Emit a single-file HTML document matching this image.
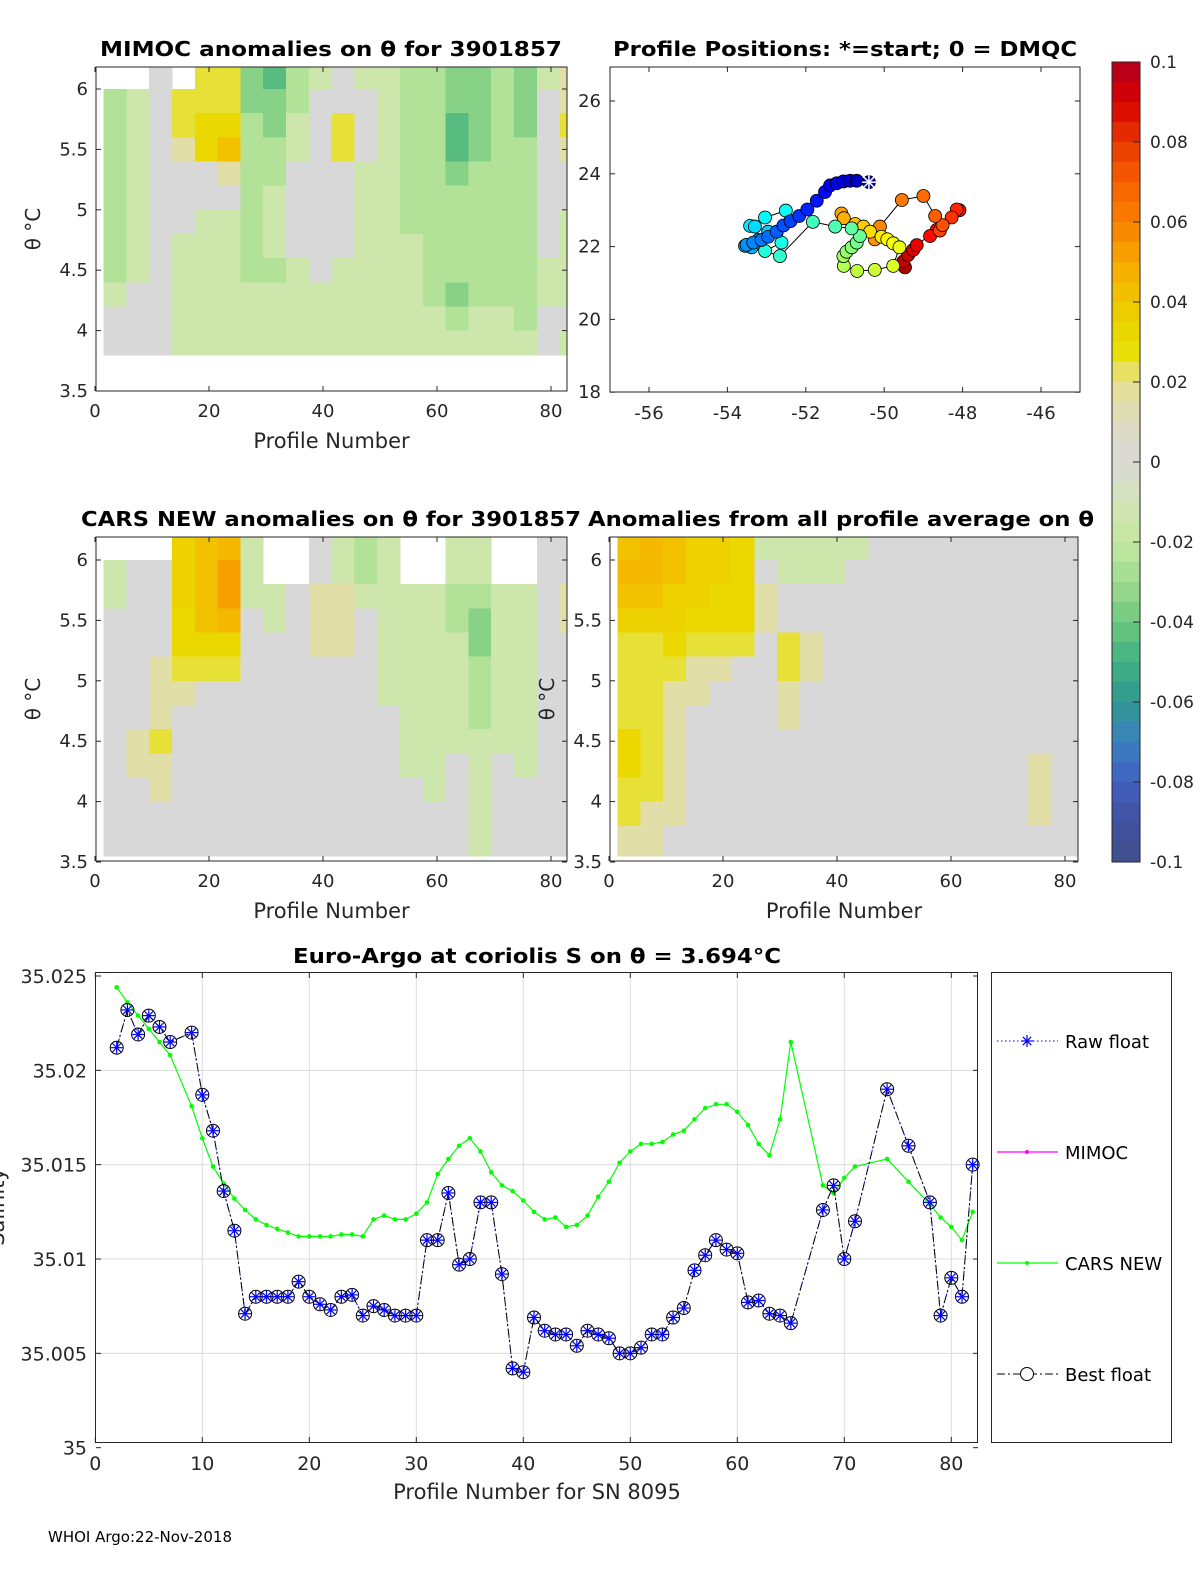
<!DOCTYPE html>
<html><head><meta charset="utf-8"><style>
html,body{margin:0;padding:0;background:#fff;}
svg{display:block;font-family:"DejaVu Sans","Liberation Sans",sans-serif;}
</style></head><body>
<svg id="fig" width="1200" height="1575" viewBox="0 0 1200 1575" xmlns="http://www.w3.org/2000/svg">
<defs>
<clipPath id="clipA"><rect x="96" y="67" width="471" height="324"/></clipPath>
<clipPath id="clipB"><rect x="96" y="537" width="471" height="324"/></clipPath>
<clipPath id="clipC"><rect x="610" y="537" width="468" height="324"/></clipPath>
<linearGradient id="cbar" x1="0" y1="1" x2="0" y2="0"></linearGradient>
</defs>
</svg>
<script>
// ---------- heatmap data (anomaly in units of 0.001; null = no data) ----------
const heatColCenters = [3.5,7.5,11.5,15.5,19.5,23.5,27.5,31.5,35.5,39.5,43.5,47.5,51.5,55.5,59.5,63.5,67.5,71.5,75.5,79.5,83.5];
const thetaEdges = [6.2,6.0,5.8,5.6,5.4,5.2,5.0,4.8,4.6,4.4,4.2,4.0,3.8,3.55];
const N = null;
const mimocAnom = [
[N,N,0,N,25,25,-35,-45,-25,-15,0,-15,-15,-25,-25,-35,-35,-25,-35,-15,15],
[-25,-15,0,25,25,25,-35,-35,-25,0,0,0,-15,-25,-25,-35,-35,-25,-35,0,15],
[-25,-15,0,25,32,32,-25,-35,-15,0,25,0,-15,-25,-25,-45,-35,-25,-35,0,25],
[-25,-15,0,15,32,42,-25,-25,-15,0,25,0,-15,-25,-25,-45,-35,-25,-25,0,15],
[-25,-15,0,0,0,15,-25,-25,0,0,0,-15,-15,-25,-25,-35,-25,-25,-25,0,0],
[-25,-15,0,0,0,0,-25,-15,0,0,0,-15,-15,-25,-25,-25,-25,-25,-25,0,0],
[-25,-15,0,0,-15,-15,-25,-15,0,0,0,-15,-15,-25,-25,-25,-25,-25,-25,0,-15],
[-25,-15,0,-15,-15,-15,-25,-15,0,0,0,-15,-15,-15,-25,-25,-25,-25,-25,0,-15],
[-25,-15,0,-15,-15,-15,-25,-25,-15,0,-15,-15,-15,-15,-25,-25,-25,-25,-25,-15,-15],
[-15,0,0,-15,-15,-15,-15,-15,-15,-15,-15,-15,-15,-15,-25,-35,-25,-25,-25,-15,-15],
[0,0,0,-15,-15,-15,-15,-15,-15,-15,-15,-15,-15,-15,-15,-25,-15,-15,-25,0,0],
[0,0,0,-15,-15,-15,-15,-15,-15,-15,-15,-15,-15,-15,-15,-15,-15,-15,-15,0,-15],
[N,N,N,N,N,N,N,N,N,N,N,N,N,N,N,N,N,N,N,N,N]
];
const carsAnom = [
[N,N,N,35,42,45,-15,N,N,0,-15,-25,-15,N,N,-15,-15,N,N,0,0],
[-15,0,0,35,42,52,-15,N,N,0,-15,-25,-15,N,N,-15,-15,N,N,0,0],
[-15,0,0,35,42,52,-15,-15,0,15,15,-15,-15,-15,-15,-25,-25,-15,-15,0,15],
[0,0,0,32,42,45,0,-15,0,15,15,0,-15,-15,-15,-25,-35,-15,-15,0,15],
[0,0,0,32,32,32,0,0,0,15,15,0,-15,-15,-15,-15,-35,-15,-15,0,0],
[0,0,15,25,25,25,0,0,0,0,0,0,-15,-15,-15,-15,-25,-15,-15,0,0],
[0,0,15,15,0,0,0,0,0,0,0,0,-15,-15,-15,-15,-25,-15,-15,0,0],
[0,0,15,0,0,0,0,0,0,0,0,0,0,-15,-15,-15,-25,-15,-15,0,0],
[0,15,25,0,0,0,0,0,0,0,0,0,0,-15,-15,-15,-15,-15,-15,0,0],
[0,15,15,0,0,0,0,0,0,0,0,0,0,-15,-15,0,-15,0,-15,0,0],
[0,0,15,0,0,0,0,0,0,0,0,0,0,0,-15,0,-15,0,0,0,0],
[0,0,0,0,0,0,0,0,0,0,0,0,0,0,0,0,-15,0,0,0,0],
[0,0,0,0,0,0,0,0,0,0,0,0,0,0,0,0,-15,0,0,0,0]
];
const avgAnom = [
[42,45,42,35,35,32,-15,-15,-15,-15,-15,0,0,0,0,0,0,0,0,0,0],
[45,45,42,35,35,32,0,-15,-15,-15,0,0,0,0,0,0,0,0,0,0,0],
[42,42,35,35,32,32,15,0,0,0,0,0,0,0,0,0,0,0,0,0,0],
[35,35,35,32,32,32,15,0,0,0,0,0,0,0,0,0,0,0,0,0,0],
[25,25,32,25,25,25,0,25,15,0,0,0,0,0,0,0,0,0,0,0,0],
[25,25,25,15,15,0,0,25,15,0,0,0,0,0,0,0,0,0,0,0,0],
[25,25,15,15,0,0,0,15,0,0,0,0,0,0,0,0,0,0,0,0,0],
[25,25,15,0,0,0,0,15,0,0,0,0,0,0,0,0,0,0,0,0,0],
[32,25,15,0,0,0,0,0,0,0,0,0,0,0,0,0,0,0,0,0,0],
[32,25,15,0,0,0,0,0,0,0,0,0,0,0,0,0,0,0,15,0,0],
[25,25,15,0,0,0,0,0,0,0,0,0,0,0,0,0,0,0,15,0,0],
[25,15,15,0,0,0,0,0,0,0,0,0,0,0,0,0,0,0,15,0,0],
[15,15,0,0,0,0,0,0,0,0,0,0,0,0,0,0,0,0,0,0,0]
];
// ---------- map data ----------
const posLon = [-50.39,-50.70,-50.87,-51.04,-51.21,-51.38,-51.51,-51.72,-51.96,-52.17,-52.39,-52.57,-52.74,-52.96,-53.13,-53.34,-53.51,-53.55,-53.38,-53.21,-52.96,-53.30,-53.42,-53.04,-52.51,-52.62,-53.04,-52.66,-51.82,-51.25,-50.83,-50.62,-50.70,-50.83,-50.96,-51.04,-51.03,-50.69,-50.24,-49.77,-49.61,-49.77,-49.92,-50.07,-50.36,-50.53,-50.74,-51.03,-51.09,-50.24,-50.11,-49.55,-49.00,-48.70,-48.51,-48.58,-48.28,-48.15,-48.08,-48.83,-48.66,-49.17,-49.26,-49.39,-49.51,-49.47];
const posLat = [23.77,23.81,23.81,23.79,23.74,23.68,23.50,23.26,23.02,22.84,22.70,22.58,22.41,22.27,22.18,22.11,22.05,22.02,21.98,22.18,22.41,22.55,22.57,22.80,22.99,22.11,21.88,21.74,22.68,22.55,22.50,22.29,22.11,21.98,21.86,21.74,21.47,21.33,21.36,21.47,21.98,22.09,22.20,22.27,22.41,22.55,22.62,22.78,22.91,22.20,22.55,23.28,23.39,22.84,22.59,22.44,22.80,23.02,23.00,22.29,22.46,22.04,21.91,21.77,21.59,21.43];
// ---------- salinity time series ----------
const profNums = [2,3,4,5,6,7,9,10,11,12,13,14,15,16,17,18,19,20,21,22,23,24,25,26,27,28,29,30,31,32,33,34,35,36,37,38,39,40,41,42,43,44,45,46,47,48,49,50,51,52,53,54,55,56,57,58,59,60,61,62,63,64,65,68,69,70,71,74,76,78,79,80,81,82];
const floatSal = [35.0212,35.0232,35.0219,35.0229,35.0223,35.0215,35.0220,35.0187,35.0168,35.0136,35.0115,35.0071,35.0080,35.0080,35.0080,35.0080,35.0088,35.0080,35.0076,35.0073,35.0080,35.0081,35.0070,35.0075,35.0073,35.0070,35.0070,35.0070,35.0110,35.0110,35.0135,35.0097,35.0100,35.0130,35.0130,35.0092,35.0042,35.0040,35.0069,35.0062,35.0060,35.0060,35.0054,35.0062,35.0060,35.0058,35.0050,35.0050,35.0053,35.0060,35.0060,35.0069,35.0074,35.0094,35.0102,35.0110,35.0105,35.0103,35.0077,35.0078,35.0071,35.0070,35.0066,35.0126,35.0139,35.0100,35.0120,35.0190,35.0160,35.0130,35.0070,35.0090,35.0080,35.0150];
const carsSal = [35.0244,35.0236,35.0229,35.0222,35.0215,35.0208,35.0181,35.0164,35.0149,35.0140,35.0132,35.0126,35.0121,35.0118,35.0116,35.0114,35.0112,35.0112,35.0112,35.0112,35.0113,35.0113,35.0112,35.0121,35.0123,35.0121,35.0121,35.0124,35.0130,35.0145,35.0153,35.0160,35.0164,35.0157,35.0146,35.0139,35.0136,35.0131,35.0125,35.0121,35.0122,35.0117,35.0118,35.0123,35.0133,35.0141,35.0151,35.0157,35.0161,35.0161,35.0162,35.0166,35.0168,35.0174,35.0180,35.0182,35.0182,35.0178,35.0171,35.0161,35.0155,35.0174,35.0215,35.0139,35.0135,35.0143,35.0149,35.0153,35.0141,35.0129,35.0122,35.0117,35.0110,35.0125];
const salTicks = [35,35.005,35.01,35.015,35.02,35.025];
const salTickLabels = ['35','35.005','35.01','35.015','35.02','35.025'];
const profTicks = [0,10,20,30,40,50,60,70,80];
const heatXTicks = [0,20,40,60,80];
const heatYTicks = [3.5,4,4.5,5,5.5,6];
const heatYLabels = ['3.5','4','4.5','5','5.5','6'];
const lonTicks = [-56,-54,-52,-50,-48,-46];
const latTicks = [18,20,22,24,26];
const cbarTicks = [-0.1,-0.08,-0.06,-0.04,-0.02,0,0.02,0.04,0.06,0.08,0.1];
const cbarLabels = ['-0.1','-0.08','-0.06','-0.04','-0.02','0','0.02','0.04','0.06','0.08','0.1'];

const svg = document.getElementById('fig');
const NS = 'http://www.w3.org/2000/svg';
function mk(tag, attrs, parent){ const e=document.createElementNS(NS,tag); for(const k in attrs) e.setAttribute(k,attrs[k]); (parent||svg).appendChild(e); return e; }
function txt(str, attrs, parent){ const e=mk('text',attrs,parent); e.textContent=str; return e; }

const stops=[[-0.1,'#40508a'],[-0.09,'#4050a0'],[-0.08,'#4060c0'],[-0.07,'#3a80c0'],[-0.06,'#309890'],[-0.05,'#40b080'],[-0.04,'#70c880'],[-0.03,'#a0dc90'],[-0.02,'#c4e8a0'],[-0.01,'#d4e4b8'],[0,'#d8d8d8'],[0.01,'#dedcc0'],[0.02,'#e6e090'],[0.028,'#e8e000'],[0.04,'#f0c800'],[0.05,'#f8a800'],[0.06,'#f88000'],[0.07,'#f86000'],[0.08,'#e83800'],[0.09,'#d80000'],[0.1,'#b00020']];
function hex(h){return [parseInt(h.substr(1,2),16),parseInt(h.substr(3,2),16),parseInt(h.substr(5,2),16)];}
function cmap(v){ v=Math.max(-0.1,Math.min(0.1,v)); for(let i=0;i<stops.length-1;i++){ if(v<=stops[i+1][0]){ const t=(v-stops[i][0])/(stops[i+1][0]-stops[i][0]); const a=hex(stops[i][1]), b=hex(stops[i+1][1]); return 'rgb('+a.map((c,j)=>Math.round(c+(b[j]-c)*t)).join(',')+')'; } } return stops[stops.length-1][1]; }

// ---------- heatmap panels ----------
function heatPanel(name, data, x0, y6, boxL, boxT, boxR, boxB, clip, title, titleX, titleW, showYLabel){
  const xs = v => x0 + v*5.7;
  const ys = th => y6 + (6-th)*120.8;
  const g = mk('g',{});
  
  
  const cg = mk('g',{'clip-path':'url(#'+clip+')','shape-rendering':'crispEdges'},g);
  data.forEach((row,r)=>{
    row.forEach((val,c)=>{
      if(val===null) return;
      const cell = mk('rect',{x:xs(heatColCenters[c]-2),y:ys(thetaEdges[r]),width:xs(heatColCenters[c]+2)-xs(heatColCenters[c]-2)+0.5,height:ys(thetaEdges[r+1])-ys(thetaEdges[r])+0.5,fill:cmap(val/1000)},cg);
      
      
    });
  });
  const box = mk('rect',{x:boxL,y:boxT,width:boxR-boxL,height:boxB-boxT,fill:'none',stroke:'#262626','stroke-width':1},g);
  
  
  heatXTicks.forEach(t=>{
    const x=xs(t);
    mk('line',{x1:x,y1:boxB,x2:x,y2:boxB-5,stroke:'#262626'},g);
    mk('line',{x1:x,y1:boxT,x2:x,y2:boxT+5,stroke:'#262626'},g);
    const l=txt(String(t),{x:x,y:boxB+26,'font-size':18,'text-anchor':'middle',fill:'#262626'},g);
    
    
  });
  heatYTicks.forEach((t,i)=>{
    const y=ys(t);
    mk('line',{x1:boxL,y1:y,x2:boxL+5,y2:y,stroke:'#262626'},g);
    mk('line',{x1:boxR,y1:y,x2:boxR-5,y2:y,stroke:'#262626'},g);
    const l=txt(heatYLabels[i],{x:boxL-8,y:y+6,'font-size':18,'text-anchor':'end',fill:'#262626'},g);
    
    
  });
  const xl=txt('Profile Number',{x:(boxL+boxR)/2,y:boxB+57,'font-size':21,'text-anchor':'middle',fill:'#262626'},g);
  
  
  const yl=txt('θ °C',{x:0,y:0,'font-size':20,'text-anchor':'middle',fill:'#262626',transform:'translate('+(boxL-56)+','+((boxT+boxB)/2)+') rotate(-90)'},g);
  
  
  const tt=txt(title,{x:titleX,y:boxT-11,'font-size':20,'font-weight':'bold','text-anchor':'middle',fill:'#000',textLength:titleW,lengthAdjust:'spacingAndGlyphs'},g);
  
  
}
heatPanel('mimoc-anomaly-panel', mimocAnom, 95, 89, 96, 67, 567, 391, 'clipA', 'MIMOC anomalies on θ  for 3901857', 331, 462, true);
heatPanel('cars-anomaly-panel', carsAnom, 95, 560, 96, 537, 567, 861, 'clipB', 'CARS NEW anomalies on θ for 3901857', 331, 500, true);
heatPanel('profile-average-anomaly-panel', avgAnom, 609, 560, 610, 537, 1078, 861, 'clipC', 'Anomalies from all profile average on θ', 841, 506, true);

// ---------- map ----------
(function(){
  const xs = lon => 649 + (lon+56)*39.2;
  const ys = lat => 101 + (26-lat)*36.4;
  const g = mk('g',{});
  
  
  const bx=mk('rect',{x:610,y:67,width:470,height:325,fill:'#fff',stroke:'#262626'},g);
  
  
  lonTicks.forEach(t=>{ const x=xs(t); mk('line',{x1:x,y1:392,x2:x,y2:387,stroke:'#262626'},g); mk('line',{x1:x,y1:67,x2:x,y2:72,stroke:'#262626'},g);
    const l=txt(String(t),{x:x,y:419,'font-size':18,'text-anchor':'middle',fill:'#262626'},g);
    
     });
  latTicks.forEach(t=>{ const y=ys(t); mk('line',{x1:610,y1:y,x2:615,y2:y,stroke:'#262626'},g); mk('line',{x1:1080,y1:y,x2:1075,y2:y,stroke:'#262626'},g);
    const l=txt(String(t),{x:601,y:y+6,'font-size':18,'text-anchor':'end',fill:'#262626'},g);
    
     });
  const pts = posLon.map((lo,i)=>xs(lo).toFixed(1)+','+ys(posLat[i]).toFixed(1)).join(' ');
  const tr=mk('polyline',{points:pts,fill:'none',stroke:'#000','stroke-width':1},g);
  
  
  const n=posLon.length;
  function jet(t){ const f=x=>Math.round(255*Math.max(0,Math.min(1,x))); return 'rgb('+f(1.5-Math.abs(4*t-3))+','+f(1.5-Math.abs(4*t-2))+','+f(1.5-Math.abs(4*t-1))+')'; }
  for(let i=n-1;i>=0;i--){
    const c=mk('circle',{cx:xs(posLon[i]),cy:ys(posLat[i]),r:6.5,fill:jet(0.05+0.9*i/(n-1)),stroke:'#000','stroke-width':0.8},g);
    
    
  }
  const sx=xs(posLon[0]), sy=ys(posLat[0]);
  const st=mk('g',{stroke:'#fff','stroke-width':1.5},g);
  
  
  [[0,7],[7,0],[5,5],[5,-5]].forEach(d=>mk('line',{x1:sx-d[0],y1:sy-d[1],x2:sx+d[0],y2:sy+d[1]},st));
  const tt=txt('Profile Positions: *=start; 0 = DMQC',{x:845,y:56,'font-size':20,'font-weight':'bold','text-anchor':'middle',fill:'#000',textLength:464,lengthAdjust:'spacingAndGlyphs'},g);
  
  
})();

// ---------- colorbar ----------
(function(){
  const g=mk('g',{'shape-rendering':'crispEdges'});
  
  
  const yv = v => 62 + (0.1-v)/0.2*800;
  for(let k=0;k<40;k++){ const v1=0.1-k*0.005, v2=v1-0.005;
    mk('rect',{x:1112,y:yv(v1),width:28,height:yv(v2)-yv(v1)+0.5,fill:cmap((v1+v2)/2)},g); }
  mk('rect',{x:1112,y:62,width:28,height:800,fill:'none',stroke:'#262626'},g);
  cbarTicks.forEach((t,i)=>{ const y=yv(t); mk('line',{x1:1133,y1:y,x2:1140,y2:y,stroke:'#262626'},g);
    const l=txt(cbarLabels[i],{x:1150,y:y+6,'font-size':17,fill:'#262626'},g);
    
     });
})();

// ---------- salinity chart ----------
(function(){
  const xs = v => 95.3 + v*10.7;
  const ys = v => 976 + (35.025-v)*18867;
  const g=mk('g',{});
  
  
  profTicks.forEach(t=>{ const x=xs(t);
    if(t>0) mk('line',{x1:x,y1:976,x2:x,y2:1442,stroke:'#dcdcdc'},g);
    mk('line',{x1:x,y1:1442,x2:x,y2:1437,stroke:'#262626'},g); mk('line',{x1:x,y1:973,x2:x,y2:978,stroke:'#262626'},g);
    const l=txt(String(t),{x:x,y:1470,'font-size':19,'text-anchor':'middle',fill:'#262626'},g);
    
     });
  salTicks.forEach((t,i)=>{ const y=ys(t);
    if(i>0&&i<salTicks.length-1) mk('line',{x1:96,y1:y,x2:978,y2:y,stroke:'#dcdcdc'},g);
    mk('line',{x1:96,y1:y,x2:101,y2:y,stroke:'#262626'},g); mk('line',{x1:978,y1:y,x2:973,y2:y,stroke:'#262626'},g);
    const l=txt(salTickLabels[i],{x:87,y:y+7,'font-size':19,'text-anchor':'end',fill:'#262626'},g);
    
     });
  const bx=mk('rect',{x:95.5,y:972.5,width:882,height:470,fill:'none',stroke:'#262626'},g);
  
  
  const cp = profNums.map((p,i)=>xs(p).toFixed(1)+','+ys(carsSal[i]).toFixed(1)).join(' ');
  const cl=mk('polyline',{points:cp,fill:'none',stroke:'#00ff00','stroke-width':1.2},g);
  
  
  profNums.forEach((p,i)=>{ const d=mk('circle',{cx:xs(p),cy:ys(carsSal[i]),r:2.3,fill:'#00ff00'},g);
    
     });
  const fp = profNums.map((p,i)=>xs(p).toFixed(1)+','+ys(floatSal[i]).toFixed(1)).join(' ');
  const rl=mk('polyline',{points:fp,fill:'none',stroke:'#0000ff','stroke-width':1,'stroke-dasharray':'1.5,2.5'},g);
  
  
  const bl=mk('polyline',{points:fp,fill:'none',stroke:'#000','stroke-width':1,'stroke-dasharray':'8,3,2,3'},g);
  
  
  profNums.forEach((p,i)=>{ const x=xs(p), y=ys(floatSal[i]);
    const m=mk('g',{},g);
    
    
    mk('circle',{cx:x,cy:y,r:6.5,fill:'none',stroke:'#000','stroke-width':1},m);
    [[0,6],[6,0],[4.2,4.2],[4.2,-4.2]].forEach(d=>mk('line',{x1:x-d[0],y1:y-d[1],x2:x+d[0],y2:y+d[1],stroke:'#0000ff','stroke-width':1.2},m));
  });
  const xl=txt('Profile Number for SN 8095',{x:537,y:1499,'font-size':21,'text-anchor':'middle',fill:'#262626'},g);
  
  
  const yl=txt('Salinity',{x:0,y:0,'font-size':21,'text-anchor':'middle',fill:'#262626',transform:'translate(4,1207) rotate(-90)'},g);
  
  
  const tt=txt('Euro-Argo at coriolis S on θ = 3.694°C',{x:537,y:963,'font-size':20,'font-weight':'bold','text-anchor':'middle',fill:'#000',textLength:488,lengthAdjust:'spacingAndGlyphs'},g);
  
  
  // legend
  const lg=mk('g',{},g);
  
  
  mk('rect',{x:991.5,y:972.5,width:180,height:470,fill:'#fff',stroke:'#262626'},lg);
  const e1=mk('g',{},lg);
  
  
  mk('line',{x1:997,y1:1041,x2:1058,y2:1041,stroke:'#0000ff','stroke-dasharray':'1.5,2.5'},e1);
  [[0,6],[6,0],[4.2,4.2],[4.2,-4.2]].forEach(d=>mk('line',{x1:1027-d[0],y1:1041-d[1],x2:1027+d[0],y2:1041+d[1],stroke:'#0000ff','stroke-width':1.2},e1));
  txt('Raw float',{x:1065,y:1048,'font-size':18,fill:'#000'},e1);
  const e2=mk('g',{},lg);
  
  
  mk('line',{x1:997,y1:1152,x2:1058,y2:1152,stroke:'#ff00ff','stroke-width':1.2},e2);
  mk('circle',{cx:1027,cy:1152,r:2,fill:'#ff00ff'},e2);
  txt('MIMOC',{x:1065,y:1159,'font-size':18,fill:'#000'},e2);
  const e3=mk('g',{},lg);
  
  
  mk('line',{x1:997,y1:1263,x2:1058,y2:1263,stroke:'#00ff00','stroke-width':1.2},e3);
  mk('circle',{cx:1027,cy:1263,r:2,fill:'#00ff00'},e3);
  txt('CARS NEW',{x:1065,y:1270,'font-size':18,fill:'#000'},e3);
  const e4=mk('g',{},lg);
  
  
  mk('line',{x1:997,y1:1374,x2:1058,y2:1374,stroke:'#000','stroke-dasharray':'8,3,2,3'},e4);
  mk('circle',{cx:1027,cy:1374,r:6.5,fill:'#fff',stroke:'#000'},e4);
  txt('Best float',{x:1065,y:1381,'font-size':18,fill:'#000'},e4);
})();

const ft=txt('WHOI Argo:22-Nov-2018',{x:48,y:1542,'font-size':15,fill:'#000'});


</script>
</body></html>
